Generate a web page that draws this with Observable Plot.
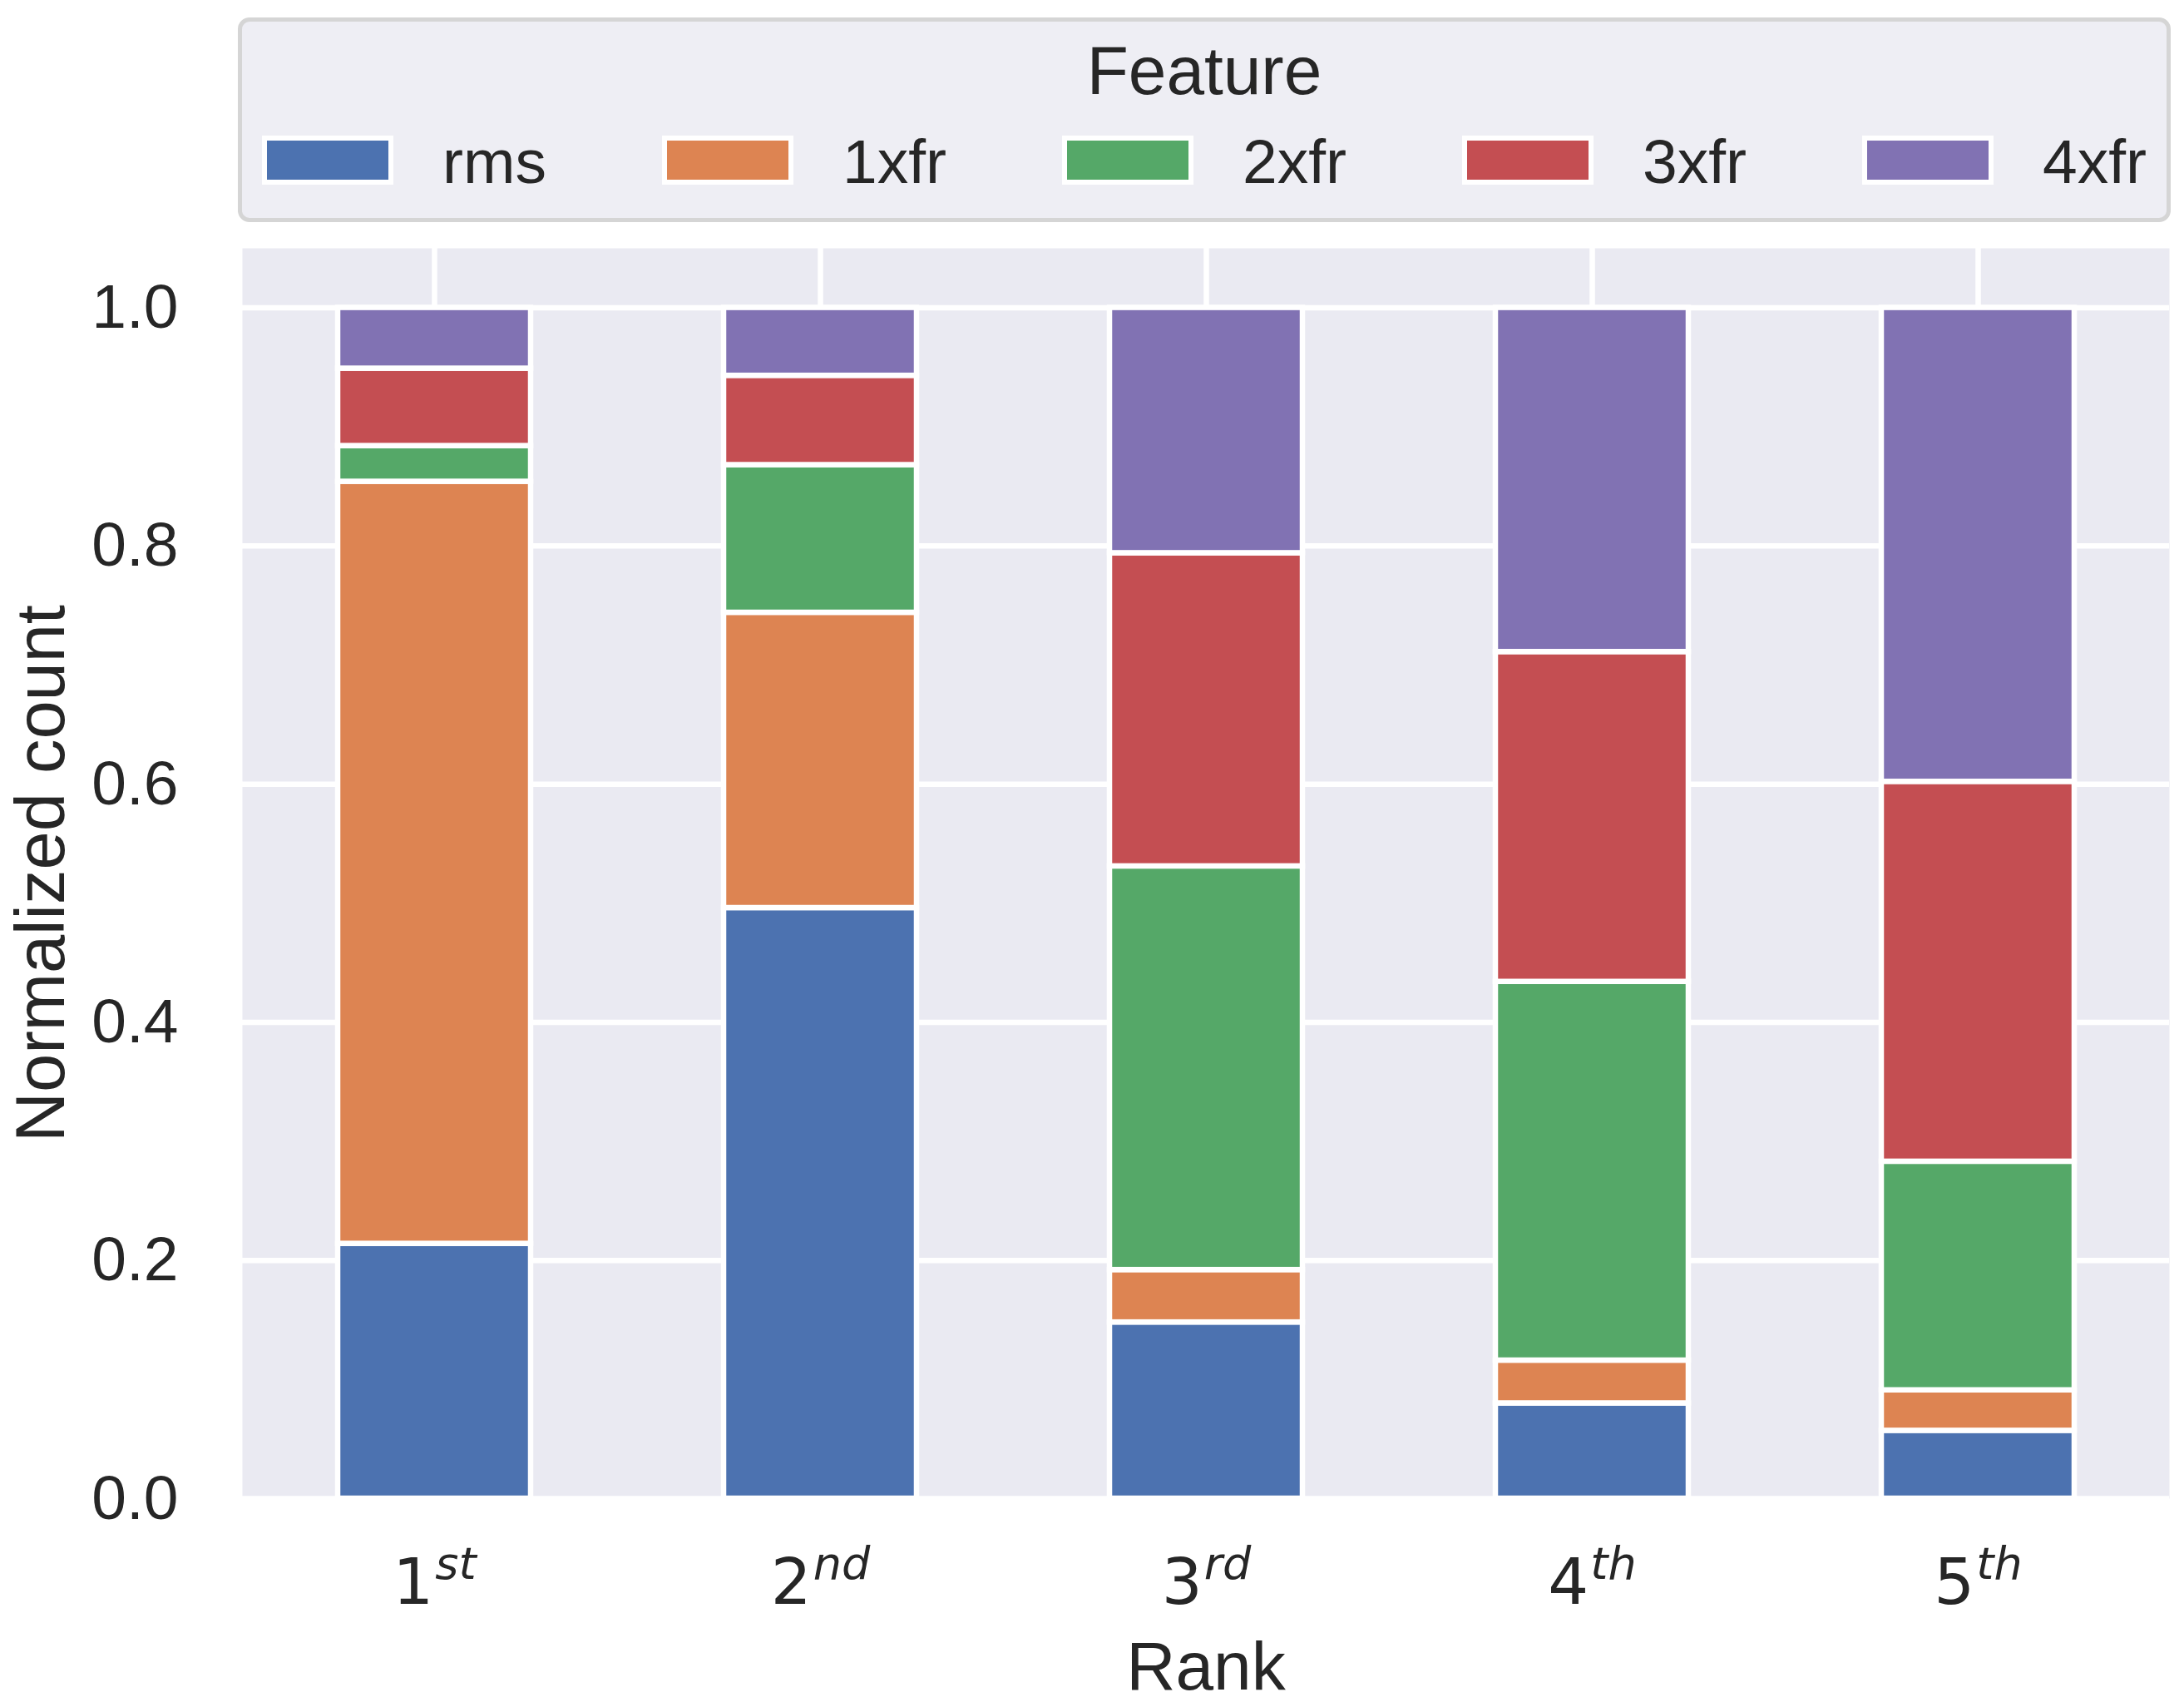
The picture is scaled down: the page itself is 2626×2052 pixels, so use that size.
<!DOCTYPE html>
<html>
<head>
<meta charset="utf-8">
<script src="https://cdn.jsdelivr.net/npm/d3@7"></script>
<script src="https://cdn.jsdelivr.net/npm/@observablehq/plot@0.6"></script>
<style>
  html, body { margin: 0; padding: 0; background: white; }
  body { font-family: "Liberation Sans", Arial, sans-serif; color: #262626; }
  #legend { position: relative; width: 2626px; height: 275px; }
  #legend .box { position: absolute; left: 286px; top: 21px; width: 2324px; height: 246px;
    box-sizing: border-box; border: 5px solid #D5D5D5; border-radius: 14px; background: #EEEEF4; }
  #legend .title { position: absolute; left: 286px; width: 2324px; top: 44px; text-align: center;
    font-size: 82px; line-height: 82px; white-space: nowrap; }
  #legend .patch { position: absolute; top: 163px; width: 146px; height: 47px; border: 6px solid white; }
  #legend .lab { position: absolute; top: 157px; font-size: 75px; line-height: 75px; white-space: nowrap; }
</style>
</head>
<body>
<div id="legend"></div>
<div id="chart"></div>
<script>
const ranks = ["1st", "2nd", "3rd", "4th", "5th"];
const features = ["rms", "1xfr", "2xfr", "3xfr", "4xfr"];
const colors = ["#4C72B0", "#DD8452", "#55A868", "#C44E52", "#8172B3"];
const rms  = [0.214, 0.496, 0.148, 0.080, 0.057];
const xfr1 = [0.640, 0.248, 0.044, 0.036, 0.034];
const xfr2 = [0.030, 0.124, 0.339, 0.318, 0.192];
const xfr3 = [0.065, 0.075, 0.263, 0.277, 0.319];
const xfr4 = [0.051, 0.057, 0.206, 0.289, 0.398];
const yTicks = [0, 0.2, 0.4, 0.6, 0.8, 1.0];
const legendTitle = "Feature";
const xLabel = "Rank";
const yLabel = "Normalized count";

const series = [rms, xfr1, xfr2, xfr3, xfr4];
const table = [];
features.forEach((f, i) => ranks.forEach((r, j) => table.push({feature: f, rank: r, value: series[i][j]})));

// Legend (HTML)
const leg = document.getElementById("legend");
leg.innerHTML = `<div class="box"></div><div class="title">${legendTitle}</div>`;
features.forEach((f, i) => {
  const p = document.createElement("div");
  p.className = "patch";
  p.style.left = (315 + 481 * i) + "px";
  p.style.background = colors[i];
  leg.appendChild(p);
  const t = document.createElement("div");
  t.className = "lab";
  t.style.left = (315 + 481 * i + 217) + "px";
  t.textContent = f;
  leg.appendChild(t);
});

const chart = Plot.plot({
  width: 2626,
  height: 1777,
  marginTop: 23,
  marginBottom: 251,
  marginLeft: 291,
  marginRight: 18,
  style: {background: "white", color: "#262626", fontFamily: '"Liberation Sans", Arial, sans-serif'},
  x: {domain: ranks, paddingInner: 0.5, paddingOuter: 0.242},
  y: {domain: [0, 1.05]},
  color: {domain: features, range: colors},
  marks: [
    Plot.frame({fill: "#EAEAF2", stroke: null}),
    Plot.gridY(yTicks, {stroke: "white", strokeOpacity: 1, strokeWidth: 6.5}),
    Plot.gridX({stroke: "white", strokeOpacity: 1, strokeWidth: 6.5}),
    Plot.barY(table, {x: "rank", y: "value", fill: "feature", stroke: "white", strokeWidth: 6.5}),
    Plot.axisY(yTicks, {tickSize: 0, tickPadding: 77, fontSize: 75, tickFormat: d3.format(".1f"), label: null}),
    Plot.axisX({tickSize: 0, tickPadding: 72, fontSize: 77, label: null, fontFamily: '"DejaVu Sans", sans-serif'}),
    Plot.text([xLabel], {frameAnchor: "bottom", lineAnchor: "bottom", dy: 229, fontSize: 82, fill: "#262626"}),
    Plot.text([yLabel], {frameAnchor: "left", textAnchor: "middle", lineAnchor: "bottom", rotate: -90, dx: -215, fontSize: 83, fill: "#262626"})
  ]
});

// mathtext-like superscripts on rank tick labels
d3.select(chart).selectAll('g[aria-label="x-axis tick label"] text').each(function () {
  const t = d3.select(this);
  const s = t.text();
  const m = s.match(/^(\d+)(.*)$/);
  if (!m) return;
  t.text(null);
  t.append("tspan").text(m[1]);
  t.append("tspan").attr("font-style", "italic").attr("font-size", 54).attr("dy", -30).attr("dx", 2).text(m[2]);
});

document.getElementById("chart").appendChild(chart);
</script>
</body>
</html>
